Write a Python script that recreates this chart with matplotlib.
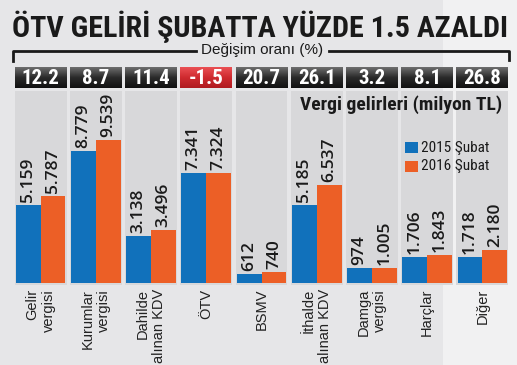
import numpy as np
import matplotlib
matplotlib.use("Agg")
from matplotlib import pyplot as plt
from matplotlib.patches import Rectangle
from matplotlib.colors import LinearSegmentedColormap

categories = ["Gelir\nvergisi", "Kurumlar\nvergisi", "Dahilde\nalınan KDV", "ÖTV", "BSMV",
              "İthalde\nalınan KDV", "Damga\nvergisi", "Harçlar", "Diğer"]
subat_2015 = [5159, 8779, 3138, 7341, 612, 5185, 974, 1706, 1718]
subat_2016 = [5787, 9539, 3496, 7324, 740, 6537, 1005, 1843, 2180]
label_2015 = ["5.159", "8.779", "3.138", "7.341", "612", "5.185", "974", "1.706", "1.718"]
label_2016 = ["5.787", "9.539", "3.496", "7.324", "740", "6.537", "1.005", "1.843", "2.180"]
change = ["12.2", "8.7", "11.4", "-1.5", "20.7", "26.1", "3.2", "8.1", "26.8"]

blue = "#1171bb"
orange = "#ec5f26"
cond = ["Roboto Condensed", "Roboto", "DejaVu Sans"]
plt.rcParams["font.family"] = ["Liberation Sans", "DejaVu Sans"]

W, H = 517, 365
fig = plt.figure(figsize=(W / 100, H / 100), dpi=100)
fig.patch.set_facecolor("#e6e6e8")
# lighter strip on the right side
fig.patches.append(Rectangle((443 / W, 0), 1, 1, transform=fig.transFigure,
                             facecolor="#f1f1f2", edgecolor="none", zorder=-10))

# axes: x from 13 to 510 px, y from 67 (top) to 285 (bottom) px
ax = fig.add_axes([13 / W, (H - 285) / H, 497 / W, 218 / H])
ax.patch.set_alpha(0)
px = 66.5  # data units per pixel
ax.set_xlim(-0.5, 8.5)
ax.set_ylim(-2 * px, 216 * px)
ax.axis("off")

dark = LinearSegmentedColormap.from_list("dark", ["#6e6e6e", "#2a2a2a", "#111111"])
red = LinearSegmentedColormap.from_list("red", ["#ea5054", "#cf2a2f", "#b01b20"])

x = np.arange(len(categories))
top = 216 * px
hdr_bot = top - 21 * px
grad = np.linspace(0, 1, 50).reshape(-1, 1)
for i in x:
    ax.add_patch(Rectangle((i - 0.47, -2 * px), 0.94, hdr_bot - 1 * px,
                           facecolor="#d8d8da", edgecolor="none", zorder=0))
    cm = red if change[i].startswith("-") else dark
    ax.imshow(grad, cmap=cm, aspect="auto", interpolation="bilinear",
              extent=(i - 0.47, i + 0.47, hdr_bot, top), zorder=1)
    ax.text(i, (hdr_bot + top) / 2 - 0.5 * px, change[i], color="white", fontsize=15,
            fontweight="bold", family=cond, ha="center", va="center", zorder=3)

ax.bar(x - 0.225, subat_2015, 0.45, color=blue, zorder=2)
ax.bar(x + 0.225, subat_2016, 0.45, color=orange, zorder=2)
for i in x:
    ax.text(i - 0.225, subat_2015[i] + 3 * px, label_2015[i], rotation=90,
            ha="center", va="bottom", fontsize=12.5, family=["Open Sans", "Liberation Sans"],
            fontweight="semibold", color="#1a1a1a", zorder=3)
    ax.text(i + 0.225, subat_2016[i] + 3 * px, label_2016[i], rotation=90,
            ha="center", va="bottom", fontsize=12.5, family=["Open Sans", "Liberation Sans"],
            fontweight="semibold", color="#1a1a1a", zorder=3)
    ax.text(i, -6 * px, categories[i], rotation=90, ha="center", va="top",
            multialignment="right", fontsize=10.5, color="#222222",
            linespacing=1.2, zorder=3)

# legend
fig.text(502 / W, 1 - 105 / H, "Vergi gelirleri (milyon TL)", ha="right", va="center",
         fontsize=14, fontweight="bold", family=cond, color="#1a1a1a")
for j, (c, lab) in enumerate([(blue, "2015 Şubat"), (orange, "2016 Şubat")]):
    y0 = 142 + j * 18.5
    fig.patches.append(Rectangle((405 / W, 1 - (y0 + 11) / H), 13 / W, 11 / H,
                                 transform=fig.transFigure, facecolor=c,
                                 edgecolor="none", zorder=5))
    fig.text(421 / W, 1 - (y0 + 5.5) / H, lab, ha="left", va="center",
             fontsize=11, family=cond, color="#1a1a1a")

# title, shrunk to fit the reference width
title = fig.text(12 / W, 1 - 27 / H, "ÖTV GELİRİ ŞUBATTA YÜZDE 1.5 AZALDI", ha="left",
                 va="center", fontsize=20, fontweight="bold", color="#1a1a1a",
                 family=cond)
renderer = fig.canvas.get_renderer()
tw = title.get_window_extent(renderer).width
title.set_fontsize(20 * 496 / tw)

fig.text(262 / W, 1 - 50 / H, "Değişim oranı (%)", ha="center", va="center",
         fontsize=11, color="#1a1a1a")
lw = 2
fig.add_artist(plt.Line2D([13 / W, 13 / W, 196 / W], [1 - 61 / H, 1 - 51 / H, 1 - 51 / H],
                          color="#1a1a1a", lw=lw, transform=fig.transFigure))
fig.add_artist(plt.Line2D([329 / W, 509 / W, 509 / W], [1 - 51 / H, 1 - 51 / H, 1 - 60 / H],
                          color="#1a1a1a", lw=lw, transform=fig.transFigure))

fig.savefig("out.png", dpi=100, facecolor=fig.get_facecolor())
